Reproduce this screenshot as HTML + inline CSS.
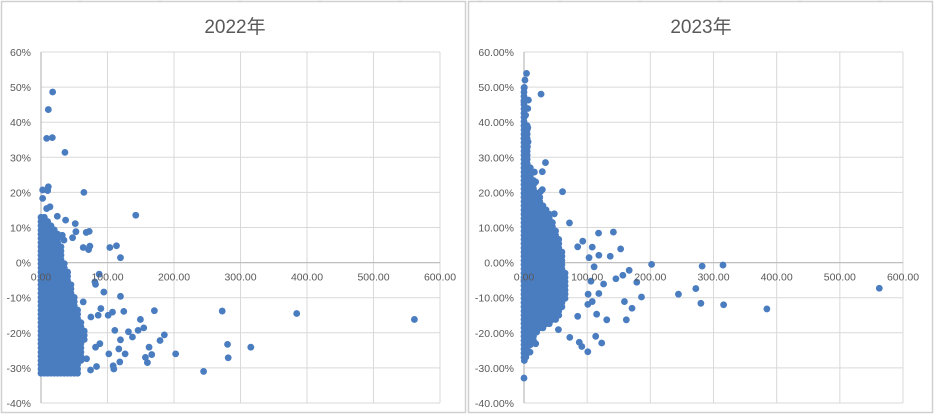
<!DOCTYPE html>
<html><head><meta charset="utf-8">
<style>
html,body{margin:0;padding:0;background:#fff;}
svg{display:block;font-family:"Liberation Sans","Noto Sans CJK SC",sans-serif;}
</style></head>
<body>
<svg id="chart" width="936" height="418" viewBox="0 0 936 418"></svg>
<script>
// ===== 2022 data =====
const xTicks = [0,100,200,300,400,500,600];
const xTickLabels = ["0.00","100.00","200.00","300.00","400.00","500.00","600.00"];
const yTicks = [60,50,40,30,20,10,0,-10,-20,-30,-40];
const yTickLabels2022 = ["60%","50%","40%","30%","20%","10%","0%","-10%","-20%","-30%","-40%"];
const yTickLabels2023 = ["60.00%","50.00%","40.00%","30.00%","20.00%","10.00%","0.00%","-10.00%","-20.00%","-30.00%","-40.00%"];

// dense cluster envelope: y level (%) -> max x reached by the dense cluster
const blobY2022 = [-31.5,-30,-25,-20,-15,-10,-5,0,5,10,13];
const blobX2022 = [55,58,64,66,58,51,44,36,30,22,8];
const px2022 = [17.5,11,8.5,17,36,11,2.5,10,64.5,2.5,8.5,13.5,142.5,24.5,37,51.5,68,72.5,52.5,32,47.5,34.5,73.5,71.5,63.5,103.5,113.5,119.5,87.5,81,82,94.5,119.5,63.5,90,107.5,124.5,101,75,86,170.5,149.5,154.5,146,185.5,179,131.5,137.5,111,119.5,117,162.5,166.5,157,160,202.5,244.5,272.5,280.5,281.5,315.5,384.5,561.5,102,118.5,126.5,108.5,109.5,83.5,74.5,82,88.5,68.5];
const py2022 = [48.6,43.6,35.4,35.6,31.4,21.6,20.7,20.5,20,18.3,15.4,15.9,13.5,13.2,12.1,11.1,8.6,8.9,8.8,7.8,7.1,6.4,4.7,3.7,4.3,4.3,4.8,1.4,-3.3,-5.5,-6.2,-8.4,-9.6,-11.2,-13.1,-14.1,-13.9,-15,-15.5,-15,-13.7,-16.2,-18.6,-19.3,-20.6,-22.2,-19.7,-21.2,-19.3,-22,-24.6,-24.1,-26.2,-27,-28.5,-26,-31,-13.8,-23.3,-27.1,-24.1,-14.5,-16.2,-26,-28.3,-26,-29.4,-30.3,-29.6,-30.6,-24.1,-23.1,-27.4];

// ===== 2023 data =====
const blobY2023 = [-27,-25,-23,-20,-18,-15,-10,-5,0,5,10,15,20,25,30,40,50];
const blobX2023 = [3,8,13,21,40,58,66,66,64,58,50,38,21,13,8,5,3];
const px2023 = [4,1.5,0.5,27,0,7,6,2.5,2.5,6,0,6.5,5.5,1.5,34,29,16.5,29,26.5,61,18.5,48,72,118,141.5,93,85,108,153,103,118.5,136.5,202,282,315,166.5,156.5,145.5,178.5,126,106,111,118.5,101.5,186,244.5,272,280,316,384.5,562.5,159,171,162,131,115,108,101,85,72.5,113.5,87.5,91.5,123,101,54.5,0,0.5,3,18.5,9.5];
const py2023 = [53.9,52,49.9,48,45.8,46.3,43.9,42,38.7,38.4,35.4,34.4,33,31.1,28.5,25.9,25.8,20.8,20.3,20.2,23,13.9,11.3,8.4,8.7,6.1,4.5,4.4,3.9,1.4,2.1,1.8,-0.5,-1,-0.7,-2.2,-3.6,-4.6,-5.6,-6.1,-5.3,-1.2,-8.8,-9,-9.8,-9,-7.4,-11.6,-12,-13.2,-7.3,-11.1,-13,-16.3,-16.3,-14.7,-11.1,-11.9,-15.3,-21.3,-21,-22.7,-23.9,-22.9,-25.4,-19.1,-32.9,-27.9,-26.9,-23.1,-25.5];

const NS = "http://www.w3.org/2000/svg";
const svg = document.getElementById('chart');
function mk(tag, attrs, parent){
  const e = document.createElementNS(NS, tag);
  for (const k in attrs) e.setAttribute(k, attrs[k]);
  (parent||svg).appendChild(e);
  return e;
}
// sheet background lines
for (const gx of [80,160,240,320,400,480,560,640,720,800,880]) {
  const l = mk('line',{x1:gx,y1:0,x2:gx,y2:4,stroke:'#e3e3e3'});
  
  
}

function drawChart(cfg){
  const g = mk('g',{});
  
  
  const panel = mk('rect',{x:cfg.px,y:1.5,width:cfg.pw,height:411,fill:'#fff',stroke:'#d0d0d0','stroke-width':1.5},g);
  
  
  const X0=cfg.x0, X1=cfg.x1, Y0=52, Y1=403;
  const sx = v => X0 + (v-0)/(600-0)*(X1-X0);
  const sy = v => Y0 + (60-v)/(100)*(Y1-Y0);
  // title
  const t = mk('text',{x:cfg.tx,y:33,'text-anchor':'middle','font-size':19,fill:'#595959'},g);
  t.textContent = cfg.title;
  
  
  // gridlines
  yTicks.forEach((v,i)=>{
    const l = mk('line',{x1:X0,x2:X1,y1:sy(v),y2:sy(v),stroke:'#d9d9d9','stroke-width':1},g);
    
    
    const lb = mk('text',{x:X0-10,y:sy(v)+4,'text-anchor':'end','font-size':10.5,fill:'#595959'},g);
    lb.textContent = cfg.yLabels[i];
    
    
  });
  xTicks.forEach((v,i)=>{
    const l = mk('line',{x1:sx(v),x2:sx(v),y1:Y0,y2:Y1,stroke:'#d9d9d9','stroke-width':1},g);
    
    
  });
  // axes
  const xa = mk('line',{x1:X0,x2:X1,y1:sy(0),y2:sy(0),stroke:'#bfbfbf','stroke-width':1.3},g);
  
  
  const ya = mk('line',{x1:X0,x2:X0,y1:Y0,y2:Y1,stroke:'#bfbfbf','stroke-width':1.3},g);
  
  
  const col = '#4a7cc0', r = 3.4;
  // dense cluster
  const dens = mk('g',{fill:col},g);
  
  
  const by = cfg.blobY, bx = cfg.blobX;
  for (let y = by[0]; y <= by[by.length-1]; y += 1.2) {
    let k = 0; while (k < by.length-2 && by[k+1] < y) k++;
    const f = (y-by[k])/(by[k+1]-by[k]);
    const xm = bx[k] + f*(bx[k+1]-bx[k]);
    for (let x = 0; x <= xm; x += 5) {
      const c = mk('circle',{cx:sx(x),cy:sy(y),r:r},dens);
      
      
    }
  }
  // outlier points
  cfg.xs.forEach((x,i)=>{
    const c = mk('circle',{cx:sx(x),cy:sy(cfg.ys[i]),r:r,fill:col},g);
    
    
  });
  // x labels drawn on top
  xTicks.forEach((v,i)=>{
    const lb = mk('text',{x:sx(v),y:sy(0)+18,'text-anchor':'middle','font-size':10.5,fill:'#595959'},g);
    lb.textContent = xTickLabels[i];
    
    
  });
}
drawChart({name:'chart-2022',title:'2022年',px:1.5,pw:464,x0:41,x1:440,tx:235,yLabels:yTickLabels2022,blobY:blobY2022,blobX:blobX2022,xs:px2022,ys:py2022});
drawChart({name:'chart-2023',title:'2023年',px:468.5,pw:464,x0:524,x1:903,tx:701,yLabels:yTickLabels2023,blobY:blobY2023,blobX:blobX2023,xs:px2023,ys:py2023});
</script>
</body></html>
